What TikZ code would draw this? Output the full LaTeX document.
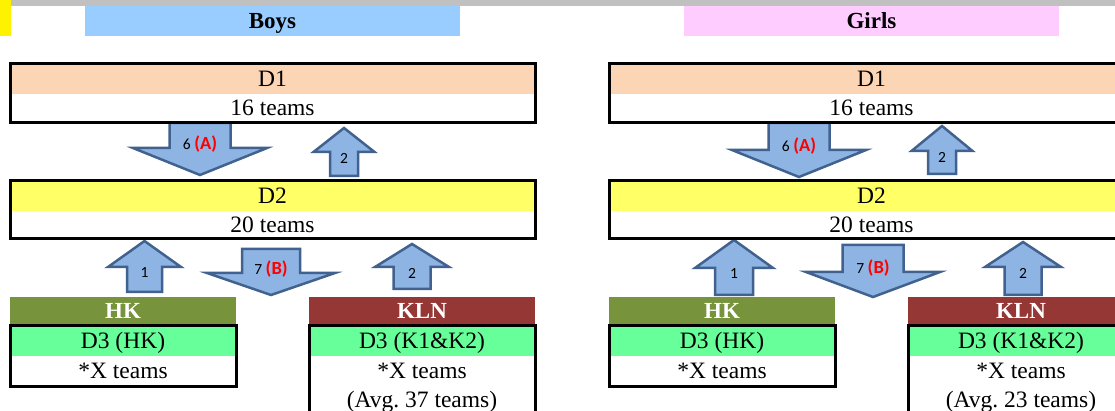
\documentclass[tikz,border=0pt]{standalone}
\usepackage{fontspec}
\setmainfont{Liberation Serif}
\newfontfamily\calibrifont{Carlito}
\usetikzlibrary{positioning}

\definecolor{boysbar}{HTML}{99CCFF}
\definecolor{girlsbar}{HTML}{FFCCFF}
\definecolor{dOnefill}{HTML}{FCD5B4}
\definecolor{dTwofill}{HTML}{FFFF66}
\definecolor{dThreefill}{HTML}{66FF99}
\definecolor{hkbar}{HTML}{77933C}
\definecolor{klnbar}{HTML}{953735}
\definecolor{arrfill}{HTML}{8EB4E3}
\definecolor{arrline}{HTML}{41628F}
\definecolor{topbar}{HTML}{C0C0C0}

\tikzset{
  row/.style={inner sep=0pt, outer sep=0pt, minimum height=30pt,
    font=\fontsize{23.5}{29}\selectfont, text height=17pt, text depth=2pt},
  boldrow/.style={row, font=\bfseries\fontsize{23}{26}\selectfont},
  boxline/.style={line width=3pt},
  blockarr/.style={fill=arrfill, draw=arrline, line width=2.5pt, line join=miter},
  arrlbl/.style={font=\calibrifont\fontsize{15.5}{18}\selectfont, inner sep=0pt},
}

\begin{document}
\begin{tikzpicture}[x=1pt, y=-1pt]
  \path[use as bounding box, clip] (0,0) rectangle (1115,411);
  \fill[white] (0,0) rectangle (1115,411);
  \fill[topbar] (11,0) rectangle (1115,6.5);
  \fill[yellow] (0,0) rectangle (11,36);

  % block arrows between the divisions
  \foreach \cx/\sh/\wg/\ty/\wy/\by/\num/\tag [count=\i] in {
    200/30.5/67/123/148/175/6/A, 799/30.5/67/123/150/177/6/A,
    271/29/64/249/273/295/7/B, 873/30.5/67/245/272/297/7/B} {
    \draw[blockarr] (\cx-\sh,\ty) -- (\cx+\sh,\ty) -- (\cx+\sh,\wy) -- (\cx+\wg,\wy)
      -- (\cx,\by) -- (\cx-\wg,\wy) -- (\cx-\sh,\wy) -- cycle;
    \node[arrlbl] (down\i) at (\cx,\wy-4)
      {\num{} {\bfseries\fontsize{18.5}{20}\selectfont\color{red}(\tag)}};
  }
  \foreach \cx/\sh/\wg/\ty/\wy/\by/\num [count=\i] in {
    344/14/30.5/128/152/176/2, 942/14/30.5/126/151/174/2,
    144.5/17.5/36.5/241/267/292/1, 734/19/39/240/268/295/1,
    412/18.5/37/244/267/289/2, 1023/18.5/38/242/267/295/2} {
    \draw[blockarr] (\cx,\ty) -- (\cx+\wg,\wy) -- (\cx+\sh,\wy) -- (\cx+\sh,\by)
      -- (\cx-\sh,\by) -- (\cx-\sh,\wy) -- (\cx-\wg,\wy) -- cycle;
    \node[arrlbl] (up\i) at (\cx,\wy+6) {\num};
  }

  % one column of divisions per side
  \foreach \s/\sx/\title/\barcol/\avg in {b/0/Boys/boysbar/37, g/599/Girls/girlsbar/23} {
    \node[boldrow, fill=\barcol, minimum width=375pt] (\s title) at (\sx+272.5,21) {\title};

    \node[row, fill=dOnefill, minimum width=525pt] (\s D1h) at (\sx+272.5,79) {D1};
    \node[row, minimum width=525pt, minimum height=29pt, below=0pt of \s D1h] (\s D1b) {16 teams};
    \draw[boxline] (\s D1h.north west) rectangle (\s D1b.south east);

    \node[row, fill=dTwofill, minimum width=525pt] (\s D2h) at (\sx+272.5,196) {D2};
    \node[row, minimum width=525pt, minimum height=28pt, below=0pt of \s D2h] (\s D2b) {20 teams};
    \draw[boxline] (\s D2h.north west) rectangle (\s D2b.south east);

    \node[boldrow, fill=hkbar, text=white, minimum width=226pt, minimum height=28pt] (\s HK) at (\sx+123,311) {HK};
    \node[row, fill=dThreefill, minimum width=226pt, minimum height=31pt, below=0pt of \s HK] (\s HKh) {D3 (HK)};
    \node[row, minimum width=226pt, below=0pt of \s HKh] (\s HKb) {*X teams};
    \draw[boxline] (\s HKh.north west) rectangle (\s HKb.south east);

    \node[boldrow, fill=klnbar, text=white, minimum width=226pt, minimum height=28pt] (\s KLN) at (\sx+422,311) {KLN};
    \node[row, fill=dThreefill, minimum width=226pt, minimum height=31pt, below=0pt of \s KLN] (\s KLNh) {D3 (K1\&K2)};
    \node[row, minimum width=226pt, minimum height=64pt, align=center, text height={}, text depth={},
      below=0pt of \s KLNh] (\s KLNb) {*X teams\\(Avg.\ \avg\ teams)};
    \draw[boxline] (\s KLNh.north west) rectangle (\s KLNb.south east);
  }
\end{tikzpicture}
\end{document}
